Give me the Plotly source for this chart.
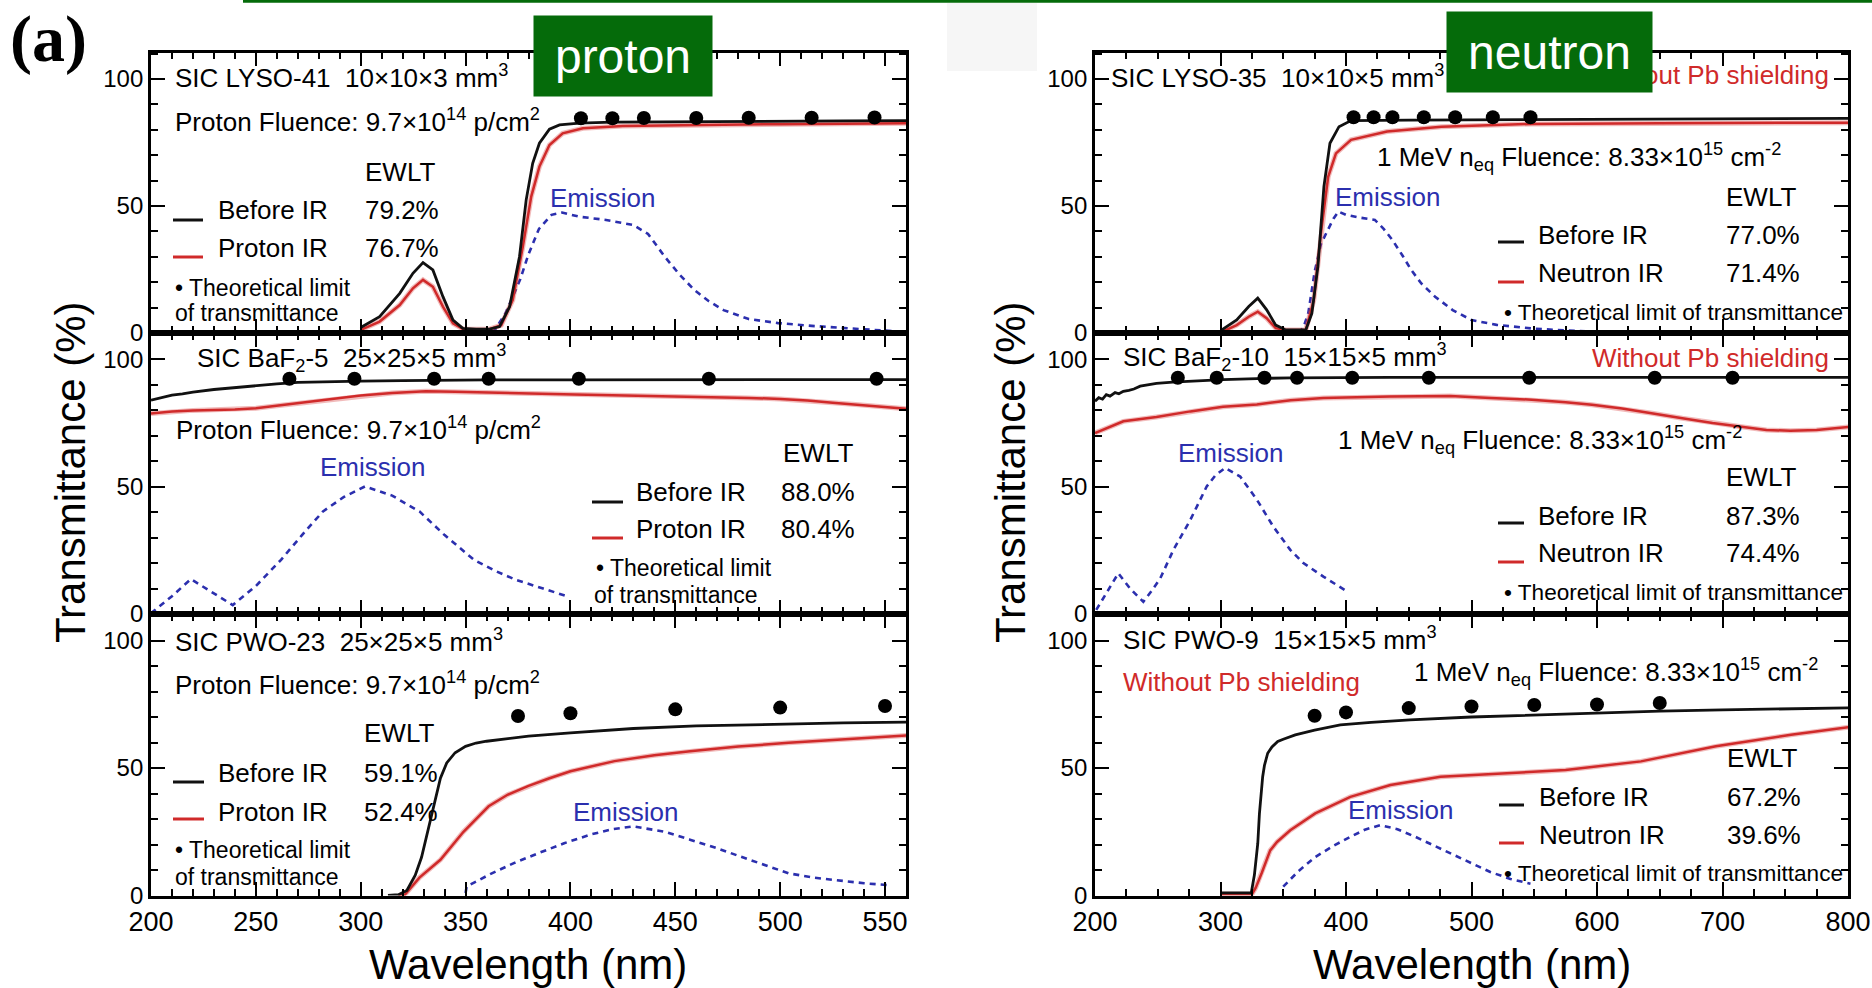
import plotly.graph_objects as go

W, H = 1872, 988

# ---------------- SIC LYSO-41, proton irradiation ----------------
lyso41_before_wl = [300, 309, 318.6, 324.9, 329.7, 334.4, 339.2, 344, 348.7, 355, 361.4, 366.2, 371, 375.7,
                    378.9, 382, 385.2, 390, 394.8, 404.3, 420, 450, 500, 530, 560]
lyso41_before_T = [2.2, 6.4, 15.6, 23.5, 27.7, 24.8, 14.3, 5.1, 1.8, 1.5, 1.5, 2.5, 10.4, 30,
                   52.4, 66.8, 74.7, 80.2, 81.9, 82.6, 83.0, 83.2, 83.4, 83.5, 83.6]
lyso41_ir_wl = [300, 309, 318.6, 324.9, 329.7, 334.4, 339.2, 344, 348.7, 355, 361.4, 367, 372.5, 377.3,
                381.3, 385.2, 390, 396.3, 405.9, 425, 450, 500, 530, 560]
lyso41_ir_T = [1.2, 4.5, 11, 17.6, 20.9, 18.2, 10.4, 3.8, 1.6, 1.5, 1.5, 3.1, 13, 34,
               53.7, 65.5, 74, 78.6, 80.6, 81.5, 81.8, 82.2, 82.4, 82.6]
lyso41_limit_wl = [405, 420, 435, 460, 485, 515, 545]
lyso41_limit_T = [84.5, 84.5, 84.6, 84.6, 84.7, 84.7, 84.8]
lyso41_em_wl = [363, 369, 376, 380, 385, 391, 396, 404, 417, 430, 437, 445, 452, 459, 466, 473, 485,
                499, 515, 528, 545, 559]
lyso41_em_T = [0, 7.7, 21, 31, 41, 46.5, 47.4, 45.8, 44.5, 42.5, 39, 30, 23, 17, 12.5, 9, 5.5,
               3.9, 2.8, 2, 1.2, 0.5]

# ---------------- SIC BaF2-5, proton irradiation ----------------
baf5_before_wl = [200, 205, 210, 215, 220, 230, 240, 250, 260, 270, 280, 300, 320, 340, 360, 400, 450, 500, 560]
baf5_before_T = [84.0, 84.9, 86.0, 86.5, 87.2, 88.2, 89.0, 89.6, 90.4, 91.0, 91.2, 91.5, 91.7, 91.9, 92.0,
                 92.0, 92.1, 92.1, 92.1]
baf5_ir_wl = [200, 210, 220, 230, 240, 250, 260, 270, 285, 300, 315, 331, 345, 362, 380, 402, 420, 442,
              465, 485, 500, 513, 525, 536, 548, 560]
baf5_ir_T = [78.8, 79.6, 80.0, 80.2, 80.3, 80.8, 81.8, 82.7, 84.3, 85.8, 86.8, 87.5, 87.3, 86.9, 86.5, 86.2,
             85.9, 85.6, 85.2, 84.9, 84.5, 83.9, 83.0, 82.3, 81.4, 80.6]
baf5_limit_wl = [266, 297, 335, 361, 404, 466, 546]
baf5_limit_T = [92.4, 92.4, 92.4, 92.4, 92.4, 92.4, 92.4]
baf5_em_wl = [200, 210, 219, 230, 239, 250, 262, 272, 282, 292, 302, 315, 328, 340, 354, 364, 374, 387, 399]
baf5_em_T = [0.3, 7, 13.7, 8, 3.5, 11, 21.3, 31, 40.3, 46, 50.1, 46.5, 40.3, 31, 21.3, 17, 13.4, 10, 6.8]

# ---------------- SIC PWO-23, proton irradiation ----------------
pwo23_before_wl = [313, 318, 322, 326, 329, 332, 335, 338, 341, 345, 350, 355, 360, 370, 380, 400, 430,
                   460, 500, 530, 560]
pwo23_before_T = [0, 0.3, 2, 8, 15, 25, 36, 46, 52, 56, 58.5, 59.8, 60.5, 61.5, 62.5, 63.8, 65.5,
                  66.5, 67.3, 67.7, 68]
pwo23_ir_wl = [318, 321, 328, 338, 349, 361, 370, 380, 390, 400, 421, 440, 457, 480, 504, 530, 561]
pwo23_ir_T = [0, 0.3, 7, 14, 25, 35, 39.5, 43, 46, 48.7, 52.7, 55, 56.6, 58.4, 59.9, 61.3, 62.8]
pwo23_limit_wl = [375, 400, 450, 500, 550]
pwo23_limit_T = [70.4, 71.5, 73.0, 73.7, 74.3]
pwo23_em_wl = [350, 350.5, 362, 373, 385, 397, 410, 420, 430, 445, 457, 470, 481, 493, 504, 516, 528, 540, 551]
pwo23_em_T = [1.0, 3.5, 8.5, 12.7, 16.7, 20.5, 24, 26, 27.1, 25, 21.9, 18.5, 15.3, 12, 8.7, 7, 5.8, 4.8, 4.1]

# ---------------- SIC LYSO-35, neutron irradiation ----------------
lyso35_before_wl = [301, 312.9, 322.5, 329.7, 336.8, 344, 352, 368, 372.8, 377.6, 382.4, 387.2, 394.4, 404,
                    450, 550, 650, 800]
lyso35_before_T = [1.2, 5.1, 10.4, 13.7, 9.1, 3.1, 1.2, 1.2, 7.7, 26.1, 57.6, 74.7, 81.2, 83.6,
                   83.8, 84.0, 84.2, 84.5]
lyso35_ir_wl = [301, 312.9, 322.5, 329.7, 336.8, 344, 352, 368, 374.3, 380, 385.8, 392, 404, 432.7, 476,
                548, 650, 800]
lyso35_ir_T = [0.4, 3.1, 6.4, 8.4, 5.8, 1.9, 1.2, 1.2, 13, 39.2, 61.5, 70.7, 76, 79.3, 81.2,
               82.3, 82.6, 82.8]
lyso35_limit_wl = [406, 422, 437, 462, 487, 517, 547]
lyso35_limit_T = [84.9, 84.9, 84.9, 84.9, 84.9, 84.9, 84.9]
lyso35_em_wl = [362, 366, 370, 375, 380, 385, 390, 394, 400, 410, 423, 430, 437, 445, 452, 460, 471, 485,
                500, 520, 548, 575, 600]
lyso35_em_T = [0, 2, 8, 24, 35, 40, 45, 47.8, 46.5, 45.5, 44.5, 41, 36.6, 30.5, 24.8, 19.5, 14.3, 9,
               5.1, 3.2, 1.8, 1, 0.5]

# ---------------- SIC BaF2-10, neutron irradiation ----------------
baf10_before_wl = [200, 203, 206, 209, 212, 216, 219, 222.6, 227, 231, 236, 249, 262, 276, 302, 329, 356,
                   435, 550, 650, 800]
baf10_before_T = [83.6, 85, 84.4, 86.2, 85.6, 87, 86.5, 87.5, 87.9, 88.4, 89.5, 90.6, 91.1, 91.5, 92.1,
                  92.5, 92.8, 93, 93, 93, 93]
baf10_ir_wl = [200, 212, 222.6, 249, 276, 302, 329, 356, 382, 435, 483, 515, 548, 575, 596, 620, 644, 668,
               692, 715, 735, 754, 775, 801]
baf10_ir_T = [71.1, 73.7, 75.7, 77.4, 79.6, 81.4, 82.3, 84, 84.9, 85.5, 85.6, 84.9, 84.2, 83.2, 82.2, 80.7,
              78.9, 76.9, 75, 73.6, 72.3, 72.0, 72.3, 73.5]
baf10_limit_wl = [266, 297, 335, 361, 405, 466, 546, 646, 708]
baf10_limit_T = [92.8, 92.8, 92.8, 92.8, 92.8, 92.8, 92.8, 92.8, 92.8]
baf10_em_wl = [201, 210, 218.6, 228, 238.5, 245, 252, 262.5, 276, 289, 296, 303.7, 315.7, 329, 342, 355.6,
               366, 382, 392, 401]
baf10_em_T = [1.6, 9, 16, 10, 4.8, 9, 14, 25.2, 37, 50.1, 54.5, 57.4, 54, 44.9, 34.4, 25.2,
              20, 14.7, 11.5, 8.8]

# ---------------- SIC PWO-9, neutron irradiation ----------------
pwo9_before_wl = [300, 324.5, 327, 329.7, 331, 333.6, 335, 337.6, 341, 345.6, 350, 359.6, 375, 395.5, 420,
                  451, 500, 555, 650, 700, 802]
pwo9_before_T = [1, 1, 8, 20.4, 32, 46.6, 51, 55.8, 58.3, 60.4, 61.3, 63, 64.9, 66.9, 67.9,
                 68.9, 70, 70.9, 72.3, 72.8, 73.6]
pwo9_ir_wl = [300, 325, 328, 333, 339.6, 345, 355.6, 375.5, 403.5, 435.4, 475.3, 535, 575, 635, 694.7,
              754.6, 802]
pwo9_ir_T = [0.5, 0.5, 3, 9, 17.7, 21, 25.6, 32.2, 38.7, 43.3, 46.6, 48, 49.2, 52.6, 58.5, 63, 66.1]
pwo9_limit_wl = [375, 400, 450, 500, 550, 600, 650]
pwo9_limit_T = [70.5, 71.8, 73.5, 74.1, 74.7, 74.9, 75.5]
pwo9_em_wl = [350, 362, 375.5, 390, 403.5, 415, 427.4, 441, 455.3, 469, 483, 499, 515, 531, 547]
pwo9_em_T = [3.5, 9.5, 15.1, 19.5, 23, 25.8, 27.6, 26, 23, 19.8, 16.4, 12.7, 9.2, 6.5, 4.6]

# Axis ranges
left_x_range = [200, 560]
right_x_range = [200, 800]
y_range = [0, 110.4]

BLACK = "#111111"
RED = "#d02a2a"
BLUE = "#2b2fae"
GREEN = "#056b0a"
FONT = "Liberation Sans"
NB = "\u00a0"  # keeps the wide gap between sample name and size

panels = [
    (lyso41_before_wl, lyso41_before_T, lyso41_ir_wl, lyso41_ir_T, lyso41_em_wl, lyso41_em_T, lyso41_limit_wl, lyso41_limit_T),
    (baf5_before_wl, baf5_before_T, baf5_ir_wl, baf5_ir_T, baf5_em_wl, baf5_em_T, baf5_limit_wl, baf5_limit_T),
    (pwo23_before_wl, pwo23_before_T, pwo23_ir_wl, pwo23_ir_T, pwo23_em_wl, pwo23_em_T, pwo23_limit_wl, pwo23_limit_T),
    (lyso35_before_wl, lyso35_before_T, lyso35_ir_wl, lyso35_ir_T, lyso35_em_wl, lyso35_em_T, lyso35_limit_wl, lyso35_limit_T),
    (baf10_before_wl, baf10_before_T, baf10_ir_wl, baf10_ir_T, baf10_em_wl, baf10_em_T, baf10_limit_wl, baf10_limit_T),
    (pwo9_before_wl, pwo9_before_T, pwo9_ir_wl, pwo9_ir_T, pwo9_em_wl, pwo9_em_T, pwo9_limit_wl, pwo9_limit_T),
]


def px(x):
    return x / W


def py(y):
    return 1 - y / H


fig = go.Figure()

for i, (bw, bt, rw, rt, ew, et, lw, lt) in enumerate(panels, start=1):
    xa, ya = f"x{i}", f"y{i}"
    fig.add_trace(go.Scatter(x=ew, y=et, mode="lines", xaxis=xa, yaxis=ya,
                             line=dict(color=BLUE, width=2.6, dash="6px,5px")))
    fig.add_trace(go.Scatter(x=rw, y=rt, mode="lines", xaxis=xa, yaxis=ya,
                             line=dict(color="rgba(215,60,60,0.35)", width=5)))
    fig.add_trace(go.Scatter(x=rw, y=rt, mode="lines", xaxis=xa, yaxis=ya,
                             line=dict(color=RED, width=2.5)))
    fig.add_trace(go.Scatter(x=bw, y=bt, mode="lines", xaxis=xa, yaxis=ya,
                             line=dict(color=BLACK, width=2.8)))
    fig.add_trace(go.Scatter(x=lw, y=lt, mode="markers", xaxis=xa, yaxis=ya,
                             marker=dict(color="black", size=14)))

# Column and row placement (pixels)
cols = [(151, 906), (1095, 1848)]
rows = [(52.5, 333), (333, 614), (614, 895.5)]

layout = dict(width=W, height=H, margin=dict(l=0, r=0, t=0, b=0, autoexpand=False),
              paper_bgcolor="white", plot_bgcolor="white", showlegend=False)

for i in range(1, 7):
    c = 0 if i <= 3 else 1
    r = (i - 1) % 3
    x0, x1 = cols[c]
    y0, y1 = rows[r]
    major = 50 if c == 0 else 100
    minor = 10 if c == 0 else 25
    layout[f"xaxis{i}"] = dict(
        domain=[px(x0), px(x1)], range=left_x_range if c == 0 else right_x_range,
        anchor=f"y{i}", showline=True, linecolor="black", linewidth=2.8, mirror="ticks",
        ticks="inside", ticklen=14, tickwidth=2, tickcolor="black", tick0=200, dtick=major,
        minor=dict(dtick=minor, ticklen=7, tickwidth=1.5, ticks="inside", tickcolor="black"),
        showgrid=False, zeroline=False, showticklabels=(r == 2), automargin=False,
        tickfont=dict(family=FONT, size=27, color="black"))
    layout[f"yaxis{i}"] = dict(
        domain=[py(y1), py(y0)], range=y_range, anchor=f"x{i}",
        showline=True, linecolor="black", linewidth=2.8, mirror="ticks",
        ticks="inside", ticklen=14, tickwidth=2, tickcolor="black", tick0=0, dtick=50,
        minor=dict(dtick=10, ticklen=7, tickwidth=1.5, ticks="inside", tickcolor="black"),
        showgrid=False, zeroline=False, automargin=False,
        tickfont=dict(family=FONT, size=24, color="black"))

fig.update_layout(**layout)

ann = []


def text(x, y, s, size=26, color="black", anchor="left", family=FONT, **kw):
    ann.append(dict(x=px(x), y=py(y), xref="paper", yref="paper", text=s, showarrow=False,
                    xanchor=anchor, yanchor="middle", font=dict(family=family, size=size, color=color), **kw))


# Axis titles
for xc in (70, 1010):
    text(xc, 472, "Transmittance (%)", size=42, anchor="center", textangle=-90)
for xc in (528, 1472):
    text(xc, 964, "Wavelength (nm)", size=42, anchor="center")

# Panel label
text(48, 39, "<b>(a)</b>", size=66, anchor="center", family="Liberation Serif")

# --- left column (proton) ---
text(173, 77, f"SIC LYSO-41{NB} 10×10×3 mm<sup>3</sup>")
text(173, 120, "Proton Fluence: 9.7×10<sup>14</sup> p/cm<sup>2</sup>")
text(363, 172, "EWLT")
text(216, 210, "Before IR"); text(363, 210, "79.2%")
text(216, 248, "Proton IR"); text(363, 248, "76.7%")
text(173, 288, "• Theoretical limit", size=23)
text(173, 313, "of transmittance", size=23)
text(602, 198, "Emission", color=BLUE, anchor="center")

text(195, 358, f"SIC BaF<sub>2</sub>-5{NB} 25×25×5 mm<sup>3</sup>")
text(174, 428, "Proton Fluence: 9.7×10<sup>14</sup> p/cm<sup>2</sup>")
text(781, 453, "EWLT")
text(634, 492, "Before IR"); text(779, 492, "88.0%")
text(634, 529, "Proton IR"); text(779, 529, "80.4%")
text(594, 568, "• Theoretical limit", size=23)
text(592, 595, "of transmittance", size=23)
text(372, 467, "Emission", color=BLUE, anchor="center")

text(173, 640, f"SIC PWO-23{NB} 25×25×5 mm<sup>3</sup>")
text(173, 683, "Proton Fluence: 9.7×10<sup>14</sup> p/cm<sup>2</sup>")
text(362, 733, "EWLT")
text(216, 773, "Before IR"); text(362, 773, "59.1%")
text(216, 812, "Proton IR"); text(362, 812, "52.4%")
text(173, 850, "• Theoretical limit", size=23)
text(173, 877, "of transmittance", size=23)
text(625, 812, "Emission", color=BLUE, anchor="center")

# --- right column (neutron) ---
text(1109, 77, f"SIC LYSO-35{NB} 10×10×5 mm<sup>3</sup>")
text(1831, 75, "Without Pb shielding", color=RED, anchor="right")
text(1375, 157, "1 MeV n<sub>eq</sub> Fluence: 8.33×10<sup>15</sup> cm<sup>-2</sup>")
text(1724, 197, "EWLT")
text(1536, 235, "Before IR"); text(1724, 235, "77.0%")
text(1536, 273, "Neutron IR"); text(1724, 273, "71.4%")
text(1502, 312, "• Theoretical limit of transmittance", size=22.6)
text(1387, 197, "Emission", color=BLUE, anchor="center")

text(1121, 357, f"SIC BaF<sub>2</sub>-10{NB} 15×15×5 mm<sup>3</sup>")
text(1831, 358, "Without Pb shielding", color=RED, anchor="right")
text(1336, 440, "1 MeV n<sub>eq</sub> Fluence: 8.33×10<sup>15</sup> cm<sup>-2</sup>")
text(1724, 477, "EWLT")
text(1536, 516, "Before IR"); text(1724, 516, "87.3%")
text(1536, 553, "Neutron IR"); text(1724, 553, "74.4%")
text(1502, 592, "• Theoretical limit of transmittance", size=22.6)
text(1230, 453, "Emission", color=BLUE, anchor="center")

text(1121, 638, f"SIC PWO-9{NB} 15×15×5 mm<sup>3</sup>")
text(1412, 672, "1 MeV n<sub>eq</sub> Fluence: 8.33×10<sup>15</sup> cm<sup>-2</sup>")
text(1121, 682, "Without Pb shielding", color=RED)
text(1725, 758, "EWLT")
text(1537, 797, "Before IR"); text(1725, 797, "67.2%")
text(1537, 835, "Neutron IR"); text(1725, 835, "39.6%")
text(1502, 873, "• Theoretical limit of transmittance", size=22.6)
text(1400, 810, "Emission", color=BLUE, anchor="center")

# Green header tags
ann.append(dict(x=px(623), y=py(56), xref="paper", yref="paper", text="proton", showarrow=False,
                xanchor="center", yanchor="middle", width=176, height=78, bgcolor=GREEN,
                font=dict(family=FONT, size=48, color="white")))
ann.append(dict(x=px(1549.5), y=py(52), xref="paper", yref="paper", text="neutron", showarrow=False,
                xanchor="center", yanchor="middle", width=203, height=78, bgcolor=GREEN,
                font=dict(family=FONT, size=48, color="white")))

fig.update_layout(annotations=ann)

# Legend line samples and header decorations
shapes = []
legend_rows = [
    (173, 203, 220, 257), (592, 623, 502, 538), (173, 204, 782, 819),
    (1498, 1524, 242, 282), (1498, 1524, 523, 562), (1499, 1524, 805, 843),
]
for xa0, xa1, yb, yr in legend_rows:
    shapes.append(dict(type="line", xref="paper", yref="paper", x0=px(xa0), x1=px(xa1), y0=py(yb), y1=py(yb),
                       line=dict(color=BLACK, width=3)))
    shapes.append(dict(type="line", xref="paper", yref="paper", x0=px(xa0), x1=px(xa1), y0=py(yr), y1=py(yr),
                       line=dict(color=RED, width=3)))
shapes.append(dict(type="line", xref="paper", yref="paper", x0=px(243), x1=1, y0=py(1.2), y1=py(1.2),
                   line=dict(color=GREEN, width=3)))
shapes.append(dict(type="rect", xref="paper", yref="paper", x0=px(947), x1=px(1037), y0=py(71), y1=py(3),
                   fillcolor="#f6f6f6", line=dict(width=0), layer="below"))
fig.update_layout(shapes=shapes)

fig.write_html("out.html")
